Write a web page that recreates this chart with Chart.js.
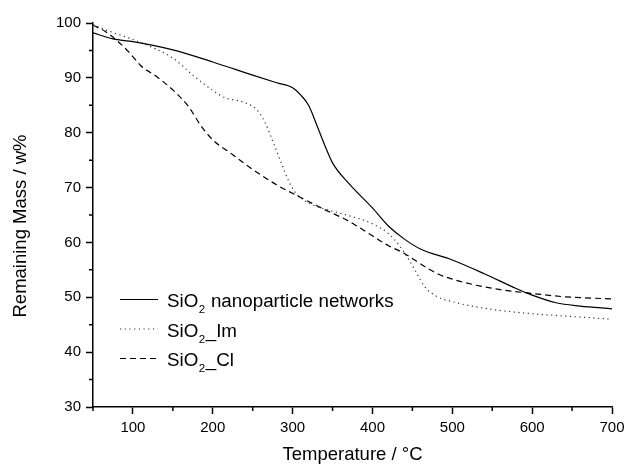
<!DOCTYPE html>
<html lang="en">
<head>
    <meta charset="UTF-8">
    <title>TGA - Remaining Mass</title>
    <script src="https://cdn.jsdelivr.net/npm/chart.js"></script>
    <style>
        body {
            margin: 0;
            padding: 0;
            background-color: #ffffff;
        }

        #tgaChart {
            display: block;
        }
    </style>
</head>
<body>
    <canvas id="tgaChart" width="625" height="466"></canvas>

    <script>
        // Temperature (°C) and remaining mass (w%) for each sample
        var netTemp = [50, 75, 100, 150, 200, 250, 280, 300, 310, 320, 330, 340, 350, 370, 400, 420, 440, 460, 500, 540, 580, 600, 630, 660, 700];
        var netMass = [98.2, 97.1, 96.6, 95.1, 92.9, 90.5, 89.1, 88.2, 86.9, 85.0, 81.5, 77.8, 74.5, 70.8, 66.3, 63.0, 60.6, 58.8, 56.8, 54.3, 51.6, 50.4, 49.0, 48.4, 47.9];

        var imTemp = [50, 60, 80, 100, 125, 150, 175, 200, 215, 240, 255, 265, 275, 285, 295, 305, 320, 340, 370, 400, 420, 435, 445, 455, 465, 480, 500, 540, 600, 650, 700];
        var imMass = [99.7, 99.1, 98.0, 97.0, 95.5, 93.6, 90.5, 87.7, 86.4, 85.5, 84.2, 82.0, 78.5, 74.8, 71.2, 68.8, 67.2, 66.1, 64.9, 63.4, 61.6, 59.2, 57.0, 54.5, 52.0, 50.2, 49.2, 48.0, 47.0, 46.5, 46.0];

        var clTemp = [50, 65, 80, 95, 110, 130, 150, 170, 185, 200, 225, 250, 280, 310, 340, 370, 400, 420, 440, 460, 480, 500, 530, 560, 600, 640, 700];
        var clMass = [99.6, 98.5, 96.8, 94.7, 92.2, 90.2, 87.8, 84.7, 81.3, 78.7, 76.0, 73.3, 70.5, 68.2, 66.0, 63.9, 61.2, 59.4, 58.0, 56.1, 54.4, 53.3, 52.2, 51.4, 50.7, 50.1, 49.7];

        var seriesNames = ['SiO₂ nanoparticle networks', 'SiO₂_Im', 'SiO₂_Cl'];
        var yTitle = 'Remaining Mass / w%';

        // Axis ticks
        var xTicks = [100, 200, 300, 400, 500, 600, 700];
        var xMinorTicks = [50, 150, 250, 350, 450, 550, 650];
        var yTicks = [30, 40, 50, 60, 70, 80, 90, 100];
        var yMinorTicks = [35, 45, 55, 65, 75, 85, 95];

        var fontFamily = '"Liberation Sans", Arial, sans-serif';

        function toPoints(xs, ys) {
            return xs.map(function (x, i) { return { x: x, y: ys[i] }; });
        }

        // Short outward ticks between the labelled ones
        var minorTicksPlugin = {
            id: 'minorTicks',
            afterDraw: function (chart) {
                var ctx = chart.ctx;
                var xs = chart.scales.x;
                var ys = chart.scales.y;
                ctx.save();
                ctx.strokeStyle = '#000';
                ctx.lineWidth = 1.5;
                ctx.beginPath();
                xMinorTicks.forEach(function (v) {
                    var px = xs.getPixelForValue(v);
                    ctx.moveTo(px, ys.bottom);
                    ctx.lineTo(px, ys.bottom + 4);
                });
                yMinorTicks.forEach(function (v) {
                    var py = ys.getPixelForValue(v);
                    ctx.moveTo(xs.left, py);
                    ctx.lineTo(xs.left - 4, py);
                });
                ctx.stroke();
                ctx.restore();
            }
        };

        // Vertical axis title, sitting a little below the middle of the axis
        var yTitlePlugin = {
            id: 'yTitle',
            afterDraw: function (chart) {
                var ctx = chart.ctx;
                ctx.save();
                ctx.translate(21, 226);
                ctx.rotate(-Math.PI / 2);
                ctx.font = '18.5px ' + fontFamily;
                ctx.fillStyle = '#000';
                ctx.textAlign = 'center';
                ctx.textBaseline = 'middle';
                ctx.fillText(yTitle, 0, 0);
                ctx.restore();
            }
        };

        // Legend inside the plot, with subscript digits
        var insideLegendPlugin = {
            id: 'insideLegend',
            afterDraw: function (chart) {
                var ctx = chart.ctx;
                var lineX0 = 120, lineX1 = 158, textX = 167;
                var firstBaseline = 307, rowGap = 29.5;
                ctx.save();
                chart.data.datasets.forEach(function (ds, i) {
                    var base = firstBaseline + i * rowGap;
                    var ly = base - 7.5;
                    ctx.strokeStyle = ds.borderColor;
                    ctx.lineWidth = ds.borderWidth;
                    ctx.setLineDash(ds.borderDash || []);
                    ctx.beginPath();
                    ctx.moveTo(lineX0, ly);
                    ctx.lineTo(lineX1, ly);
                    ctx.stroke();
                    ctx.setLineDash([]);

                    ctx.fillStyle = '#000';
                    ctx.textBaseline = 'alphabetic';
                    ctx.textAlign = 'left';
                    var x = textX;
                    var parts = ds.label.split('₂');
                    parts.forEach(function (part, j) {
                        ctx.font = '18.8px ' + fontFamily;
                        ctx.fillText(part, x, base);
                        x += ctx.measureText(part).width;
                        if (j < parts.length - 1) {
                            ctx.font = '11.5px ' + fontFamily;
                            ctx.fillText('2', x + 0.5, base + 6);
                            x += ctx.measureText('2').width + 1;
                        }
                    });
                });
                ctx.restore();
            }
        };

        var ctx = document.getElementById('tgaChart').getContext('2d');

        var tgaChart = new Chart(ctx, {
            type: 'line',
            data: {
                datasets: [{
                    label: seriesNames[0],
                    data: toPoints(netTemp, netMass),
                    borderColor: '#000000',
                    borderWidth: 1.2,
                    pointRadius: 0,
                    cubicInterpolationMode: 'monotone'
                }, {
                    label: seriesNames[1],
                    data: toPoints(imTemp, imMass),
                    borderColor: '#333333',
                    borderWidth: 1.2,
                    borderDash: [1.2, 3.5],
                    pointRadius: 0,
                    cubicInterpolationMode: 'monotone'
                }, {
                    label: seriesNames[2],
                    data: toPoints(clTemp, clMass),
                    borderColor: '#000000',
                    borderWidth: 1.2,
                    borderDash: [6, 4],
                    pointRadius: 0,
                    cubicInterpolationMode: 'monotone'
                }]
            },
            options: {
                responsive: false,
                animation: false,
                devicePixelRatio: 1,
                layout: {
                    padding: { top: 23, right: 13, left: 0, bottom: 0 }
                },
                plugins: {
                    legend: { display: false },
                    tooltip: { enabled: false }
                },
                scales: {
                    x: {
                        type: 'linear',
                        min: 50,
                        max: 700,
                        afterBuildTicks: function (scale) {
                            scale.ticks = xTicks.map(function (v) { return { value: v }; });
                        },
                        afterFit: function (scale) {
                            scale.height = 59;
                            scale.paddingLeft = 0;
                            scale.paddingRight = 0;
                        },
                        border: { display: true, color: '#000', width: 1.5 },
                        grid: {
                            drawOnChartArea: false,
                            drawTicks: true,
                            tickLength: 7,
                            tickColor: '#000',
                            tickWidth: 1.5
                        },
                        ticks: {
                            color: '#000',
                            padding: 5,
                            maxRotation: 0,
                            font: { family: fontFamily, size: 15 }
                        },
                        title: {
                            display: true,
                            text: 'Temperature / °C',
                            color: '#000',
                            padding: { top: 0, bottom: 0 },
                            font: { family: fontFamily, size: 18.5 }
                        }
                    },
                    y: {
                        type: 'linear',
                        min: 30,
                        max: 100,
                        afterBuildTicks: function (scale) {
                            scale.ticks = yTicks.map(function (v) { return { value: v }; });
                        },
                        afterFit: function (scale) {
                            scale.width = 93;
                            scale.paddingTop = 0;
                            scale.paddingBottom = 0;
                        },
                        border: { display: true, color: '#000', width: 1.5 },
                        grid: {
                            drawOnChartArea: false,
                            drawTicks: true,
                            tickLength: 7,
                            tickColor: '#000',
                            tickWidth: 1.5
                        },
                        ticks: {
                            color: '#000',
                            padding: 5,
                            font: { family: fontFamily, size: 15 }
                        }
                    }
                }
            },
            plugins: [minorTicksPlugin, yTitlePlugin, insideLegendPlugin]
        });
    </script>
</body>
</html>
